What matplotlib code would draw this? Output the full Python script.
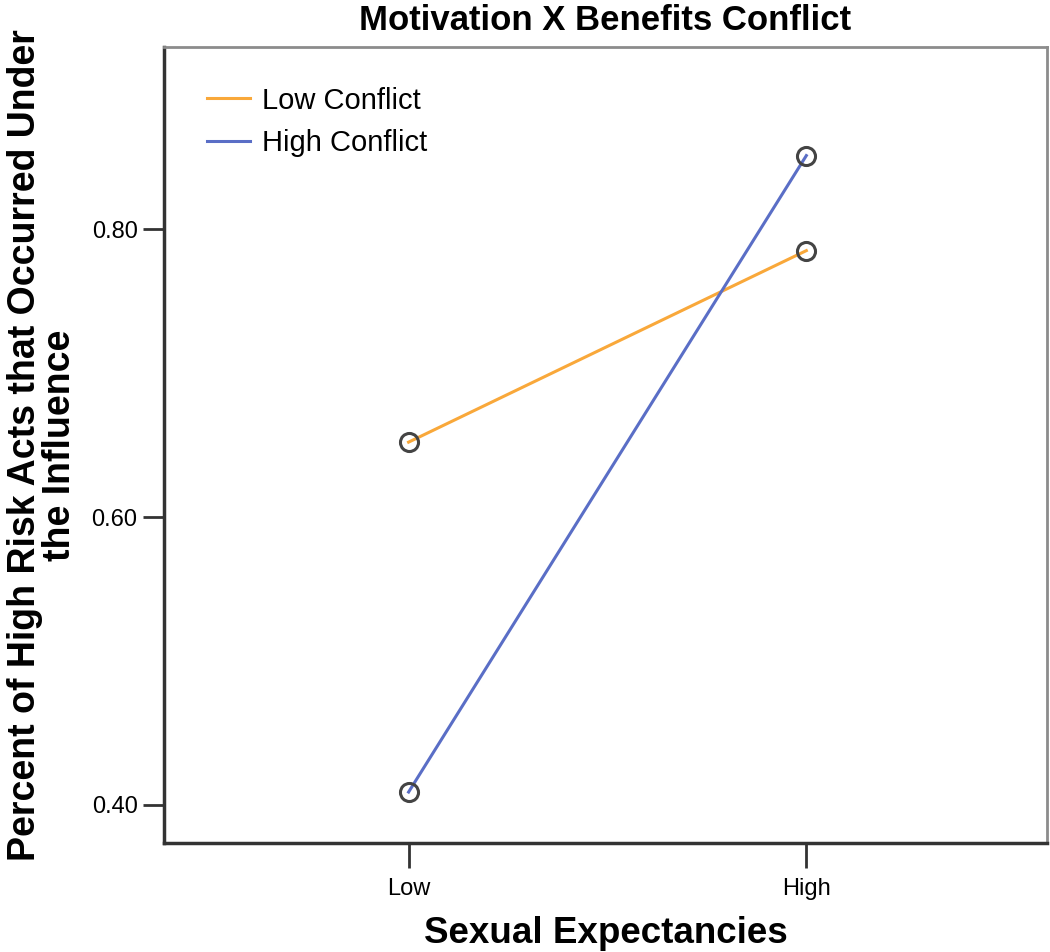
import matplotlib
matplotlib.use('Agg')
import matplotlib.pyplot as plt
from matplotlib.ticker import FormatStrFormatter

plt.rcParams['font.family'] = ['Liberation Sans', 'DejaVu Sans']

# --- data ---
categories = ['Low', 'High']
low_conflict = [0.652, 0.785]
high_conflict = [0.409, 0.851]
series_names = ['Low Conflict', 'High Conflict']
yticks = [0.40, 0.60, 0.80]
# ------------

fig = plt.figure(figsize=(10.5, 9.52), dpi=100)
ax = fig.add_axes([0.1562, 0.1145, 0.8409, 0.8361])

xs = range(len(categories))
ax.plot(xs, low_conflict, color='#F9A83A', lw=2.2, label=series_names[0], zorder=2)
ax.plot(xs, high_conflict, color='#5A6EC6', lw=2.2, label=series_names[1], zorder=2)
# open circle markers on top of the lines
for vals in (low_conflict, high_conflict):
    ax.plot(xs, vals, ls='none', marker='o', ms=13, mfc='none',
            mec='#444444', mew=2.2, zorder=3)

ax.set_xlim(-0.615, 1.605)
ax.set_ylim(0.3736, 0.9264)
ax.set_xticks(list(xs))
ax.set_xticklabels(categories)
ax.set_yticks(yticks)
ax.yaxis.set_major_formatter(FormatStrFormatter('%.2f'))

ax.tick_params(axis='x', length=18, width=2, color='#333333', labelsize=17, pad=7)
ax.tick_params(axis='y', length=15, width=2, color='#333333', labelsize=17, pad=4)

for side in ('left', 'bottom'):
    ax.spines[side].set_color('#333333')
    ax.spines[side].set_linewidth(2.5)
for side in ('top', 'right'):
    ax.spines[side].set_color('#8c8c8c')
    ax.spines[side].set_linewidth(2.0)

ax.set_title('Motivation X Benefits Conflict', fontsize=25, fontweight='bold', pad=12)
ax.set_xlabel('Sexual Expectancies', fontsize=26.5, fontweight='bold', labelpad=12)
ax.set_ylabel('Percent of High Risk Acts that Occurred Under\nthe Influence',
              fontsize=27, fontweight='bold', labelpad=10, linespacing=0.95)

leg = ax.legend(loc='upper left', frameon=False, fontsize=21,
                handlelength=1.5, handletextpad=0.4, labelspacing=0.5,
                borderaxespad=0, bbox_to_anchor=(0.035, 0.965))

fig.savefig('out.png', dpi=100)
